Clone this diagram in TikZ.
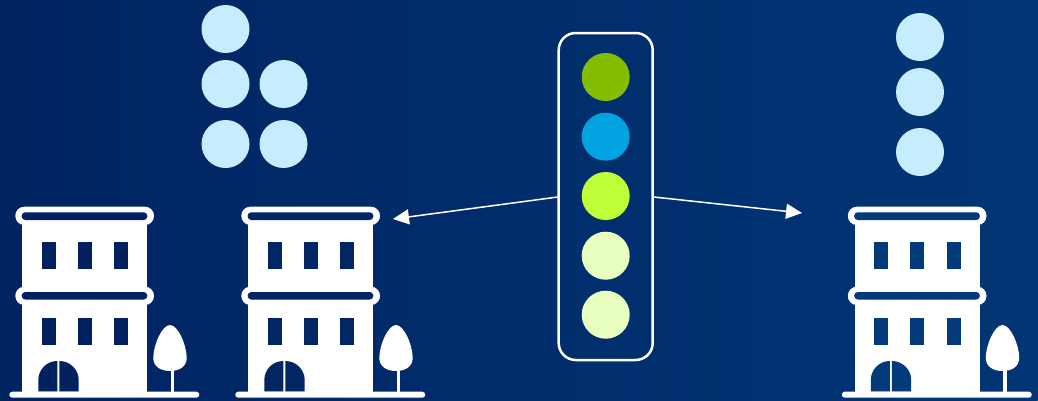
\documentclass[tikz,border=0pt]{standalone}
\usetikzlibrary{arrows.meta}
\definecolor{bgl}{HTML}{001F5D}
\definecolor{bgm}{HTML}{012A69}
\definecolor{bgr}{HTML}{023A7A}
\definecolor{holea}{HTML}{01215F}
\definecolor{holeb}{HTML}{012663}
\definecolor{holec}{HTML}{023A7A}
\definecolor{sky}{HTML}{C5ECFF}
\definecolor{cgreen}{HTML}{84BD00}
\definecolor{cblue}{HTML}{00A3E0}
\definecolor{clime}{HTML}{BEFF39}
\definecolor{cpale}{HTML}{E8FFBF}
\tikzset{
  dot/.style={circle,inner sep=0pt,minimum size=48pt,fill=#1},
  panel/.style={draw=white,line width=2.5pt,rounded corners=17pt,inner sep=0pt,minimum width=94pt,minimum height=327pt},
  flow/.style={draw=white,line width=1.5pt,-{Triangle[length=16pt,width=15pt,fill=white]}},
  pics/house/.style={code={
    % body
    \fill[white] (22.3,215) rectangle (147,392);
    % cornice bands
    \fill[white,rounded corners=9pt] (15.3,206.7) rectangle (154,225);
    \fill[white,rounded corners=9pt] (15.3,286.7) rectangle (154,305);
    \fill[#1,rounded corners=3.5pt] (21.7,212.3) rectangle (147.3,220);
    \fill[#1,rounded corners=3.5pt] (21.7,292) rectangle (147.3,299.5);
    % windows
    \foreach \wx in {41.7,77.7,114}{
      \fill[#1] (\wx,242.3) rectangle ++(14,26.7);
      \fill[#1] (\wx,318.3) rectangle ++(14,26.7);
    }
    % door
    \fill[#1] (38.3,391.7) -- (38.3,380) arc[start angle=180,end angle=90,x radius=19,y radius=-19] -- (57.3,391.7) -- cycle;
    \fill[#1] (78.7,391.7) -- (78.7,380) arc[start angle=0,end angle=90,x radius=19.4,y radius=-19] -- (59.3,391.7) -- cycle;
    % ground
    \fill[white,rounded corners=3pt] (9.3,391.7) rectangle (199.3,397.7);
    % tree
    \fill[white] (170.8,365) rectangle (174.4,392);
    \fill[white] (170,325) .. controls (162,325) and (153.3,345) .. (153.3,358)
      .. controls (153.3,366) and (160,371) .. (170,371)
      .. controls (180,371) and (186.7,366) .. (186.7,358)
      .. controls (186.7,345) and (178,325) .. (170,325) -- cycle;
  }}
}
\begin{document}
\begin{tikzpicture}[x=1pt,y=-1pt]
\useasboundingbox (0,0) rectangle (1038,400);
\begin{scope}
\clip (0,0) rectangle (1038,400);
\shade[rotate around={-20:(519,200)},left color=bgl,middle color=bgm,right color=bgr] (-37,-500) rectangle (1075,900);
\end{scope}
\pic at (0,0) {house=holea};
\pic at (226,0) {house=holeb};
\pic at (832.5,0) {house=holec};
\node[dot=sky] (a1) at (225.5,29) {};
\node[dot=sky] (a2) at (225.5,84) {};
\node[dot=sky] (a3) at (283.5,84) {};
\node[dot=sky] (a4) at (225.5,144) {};
\node[dot=sky] (a5) at (283.5,144) {};
\node[dot=sky] (b1) at (920,37) {};
\node[dot=sky] (b2) at (920,92) {};
\node[dot=sky] (b3) at (920,152) {};
\node[panel] (box) at (605.7,196.5) {};
\node[dot=cgreen] (c1) at (605.7,77) {};
\node[dot=cblue] (c2) at (605.7,136.7) {};
\node[dot=clime] (c3) at (605.7,196) {};
\node[dot=cpale] (c4) at (605.7,255.7) {};
\node[dot=cpale] (c5) at (605.7,314.7) {};
\coordinate (tl) at (393,219);
\coordinate (tr) at (802,213);
\coordinate (sl) at (557.7,197);
\coordinate (sr) at (653.7,197);
\draw[flow] (sl) -- (tl);
\draw[flow] (sr) -- (tr);
\end{tikzpicture}
\end{document}
